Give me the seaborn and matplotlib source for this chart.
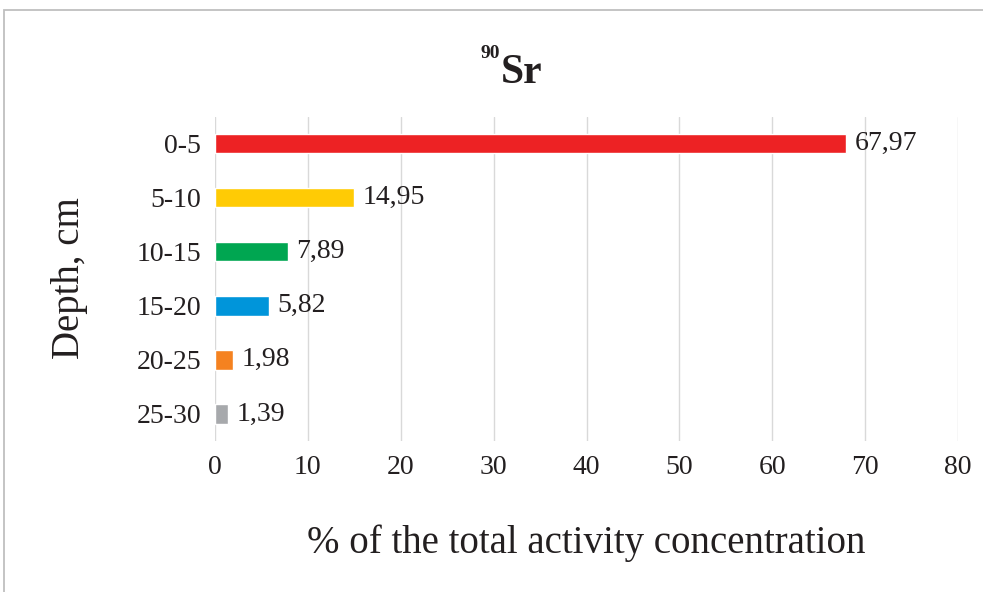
import matplotlib
matplotlib.use("Agg")
import matplotlib.pyplot as plt
import seaborn as sns
import pandas as pd
from matplotlib.patches import Rectangle

depths = ["0-5", "5-10", "10-15", "15-20", "20-25", "25-30"]
values = [67.97, 14.95, 7.89, 5.82, 1.98, 1.39]
colors = ["#ED2224", "#FFCB05", "#00A651", "#0095DA", "#F58220", "#A7A9AC"]
xticks = [0, 10, 20, 30, 40, 50, 60, 70, 80]

sns.set_theme(style="white")
plt.rcParams['font.family'] = ['Liberation Serif', 'DejaVu Serif']

df = pd.DataFrame({"depth": depths, "value": values})

fig = plt.figure(figsize=(9.83, 5.92), dpi=100)
ax = fig.add_axes([215/983, 1-441/592, (958-215)/983, (441-116.5)/592])

sns.barplot(data=df, x="value", y="depth", hue="depth", palette=colors,
            order=depths, hue_order=depths, width=0.36, legend=False,
            saturation=1, ax=ax)

ax.set_xlim(0, 80)
ax.set_xticks(xticks)
ax.set_xticklabels([str(t) for t in xticks])
ax.grid(axis="x", color="#D9D9D9", linewidth=1.0)
ax.grid(axis="y", visible=False)
ax.set_axisbelow(True)
for s in ax.spines.values():
    s.set_visible(False)
ax.tick_params(axis="x", labelsize=20, pad=10, length=0, colors="#231F20")
ax.tick_params(axis="y", labelsize=20, pad=10, length=0, colors="#231F20")
ax.set_xlabel("")
ax.set_ylabel("")

for cont in ax.containers:
    labs = [f"{v:.2f}".replace(".", ",") for v in cont.datavalues]
    ax.bar_label(cont, labels=labs, padding=6, fontsize=20, color="#231F20")

fig.text(586/983, 1-543/592, "% of the total activity concentration",
         ha="center", va="center", fontsize=28, color="#231F20")
fig.text(70/983, 1-278/592, "Depth, cm", rotation=90,
         ha="center", va="center", fontsize=28, color="#231F20")

# title with superscript
fig.text(501/983, 1-83/592, "Sr", ha="left", va="baseline",
         fontsize=30, fontweight="bold", color="#231F20")
fig.text(500/983, 1-58/592, "90", ha="right", va="baseline",
         fontsize=14, fontweight="bold", color="#231F20")

fig.patches.append(Rectangle((4/983, -0.05), 1.2, 1-10/592+0.05,
                             transform=fig.transFigure, fill=False,
                             edgecolor="#BFBFBF", linewidth=1.3))

fig.savefig("out.png", dpi=100)
